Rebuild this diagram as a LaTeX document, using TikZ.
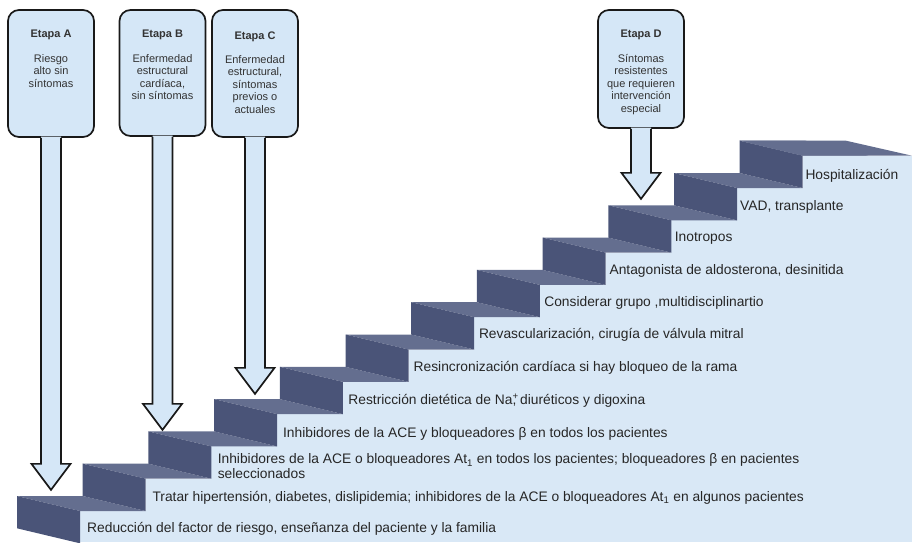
\documentclass[tikz,border=0pt]{standalone}
\usepackage{fontspec}
\setmainfont{Liberation Sans}
\usepackage{tikz}
\usetikzlibrary{positioning}

\definecolor{cara}{HTML}{D9E8F6}
\definecolor{boxazul}{HTML}{D5E7F7}
\definecolor{huella}{HTML}{646E8F}
\definecolor{contra}{HTML}{4A5478}

\tikzset{
  etapa/.style={draw=black!90, line width=1.7pt, fill=boxazul, rounded corners=11pt,
                inner sep=0pt, minimum width=86pt},
  borde/.style={draw=black!90, line width=1.7pt, line join=miter},
  txtetapa/.style={font=\fontsize{11}{12.6}\selectfont, align=center, inner sep=0pt,
                   text=black!80},
  txtpaso/.style={font=\fontsize{13.8}{15}\selectfont, align=left, inner sep=0pt,
                  anchor=west, text=black!85}
}

% open-topped block arrow hanging under a stage box
\newcommand{\flechaetapa}[2]{%
  \fill[boxazul] ([xshift=-10pt,yshift=1.2pt]#1.south) -- ++(0,#2+1.2) -- ++(-9.5,0)
    -- ++(19.5,26) -- ++(19.5,-26) -- ++(-9.5,0) -- ++(0,-#2-1.2) -- cycle;
  \draw[borde] ([xshift=-10pt]#1.south) -- ++(0,#2) -- ++(-9.5,0)
    -- ++(19.5,26) -- ++(19.5,-26) -- ++(-9.5,0) -- ++(0,-#2);
}

\begin{document}
\begin{tikzpicture}[x=1pt, y=-1pt]
\useasboundingbox (0,0) rectangle (912,542);

% ---------- staircase: front faces, treads, risers ----------
\foreach \k in {0,...,11} {
  \pgfmathsetmacro{\L}{17+65.7*\k}
  \pgfmathsetmacro{\A}{496-32.3*\k}
  \fill[cara] (\L+63,\A+15) rectangle (912,542);
}
\foreach \k in {0,...,11} {
  \pgfmathsetmacro{\L}{17+65.7*\k}
  \pgfmathsetmacro{\A}{496-32.3*\k}
  \fill[huella] (\L,\A) -- ++(65.7,0) -- ++(63,15) -- ++(-65.7,0) -- cycle;
  \fill[contra] (\L,\A) -- ++(63,15) -- ++(0,32.3) -- ++(-63,-15) -- cycle;
}
\fill[huella] (739.7,140.7) -- (846,140.7) -- (912,155.7) -- (802.7,155.7) -- cycle;

% ---------- step labels ----------
\node[txtpaso] (paso0)  at (87,529)      {Reducción del factor de riesgo, enseñanza del paciente y la familia};
\node[txtpaso] (paso1)  at (152.3,498)   {Tratar hipertensión, diabetes, dislipidemia; inhibidores de la ACE o bloqueadores At\textsubscript{1} en algunos pacientes};
\node[txtpaso] (paso2)  at (217.6,466.5) {Inhibidores de la ACE o bloqueadores At\textsubscript{1} en todos los pacientes; bloqueadores β en pacientes\\seleccionados};
\node[txtpaso] (paso3)  at (282.9,433.5) {Inhibidores de la ACE y bloqueadores β en todos los pacientes};
\node[txtpaso] (paso4)  at (348.2,400.5) {Restricción dietética de Na\rlap{\textsuperscript{+}}, diuréticos y digoxina};
\node[txtpaso] (paso5)  at (413.5,367.5) {Resincronización cardíaca si hay bloqueo de la rama};
\node[txtpaso] (paso6)  at (478.8,335.2) {Revascularización, cirugía de válvula mitral};
\node[txtpaso] (paso7)  at (544.1,302.9) {Considerar grupo ,multidisciplinartio};
\node[txtpaso] (paso8)  at (609.4,270.6) {Antagonista de aldosterona, desinitida};
\node[txtpaso] (paso9)  at (674.7,238.3) {Inotropos};
\node[txtpaso] (paso10) at (740,207)     {VAD, transplante};
\node[txtpaso] (paso11) at (805.3,176)   {Hospitalización};

% ---------- stage boxes with their arrows ----------
\node[etapa, minimum height=127pt] (etA) at (51,73.5)    {};
\node[etapa, minimum height=126pt] (etB) at (162.5,73)   {};
\node[etapa, minimum height=127pt] (etC) at (255,73.5)   {};
\node[etapa, minimum height=118pt] (etD) at (641,69)     {};

\flechaetapa{etA}{326}
\flechaetapa{etB}{267}
\flechaetapa{etC}{230}
\flechaetapa{etD}{44}

\node[txtetapa, below=21pt of etA.north] (txA) {\textbf{Etapa A}\\[11.5pt]Riesgo\\alto sin\\síntomas};
\node[txtetapa, below=21pt of etB.north] (txB) {\textbf{Etapa B}\\[11.5pt]Enfermedad\\estructural\\cardíaca,\\sin síntomas};
\node[txtetapa, below=22pt of etC.north] (txC) {\textbf{Etapa C}\\[11.5pt]Enfermedad\\estructural,\\síntomas\\previos o\\actuales};
\node[txtetapa, below=21pt of etD.north] (txD) {\textbf{Etapa D}\\[11.5pt]Síntomas\\resistentes\\que requieren\\intervención\\especial};

\end{tikzpicture}
\end{document}
